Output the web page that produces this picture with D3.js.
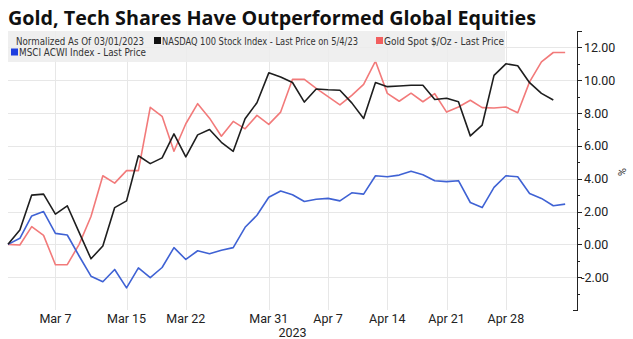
<!DOCTYPE html>
<html>
<head>
<meta charset="utf-8">
<script src="https://cdn.jsdelivr.net/npm/d3@7"></script>
<style>
  html, body { margin: 0; padding: 0; background: #fff; }
  svg { display: block; }
</style>
</head>
<body>
<script>
// ---- Data ----
const dates = [
  "2023-03-01","2023-03-02","2023-03-03","2023-03-06","2023-03-07","2023-03-08","2023-03-09","2023-03-10",
  "2023-03-13","2023-03-14","2023-03-15","2023-03-16","2023-03-17","2023-03-20","2023-03-21","2023-03-22",
  "2023-03-23","2023-03-24","2023-03-27","2023-03-28","2023-03-29","2023-03-30","2023-03-31","2023-04-03",
  "2023-04-04","2023-04-05","2023-04-06","2023-04-07","2023-04-10","2023-04-11","2023-04-12","2023-04-13",
  "2023-04-14","2023-04-17","2023-04-18","2023-04-19","2023-04-20","2023-04-21","2023-04-24","2023-04-25",
  "2023-04-26","2023-04-27","2023-04-28","2023-05-01","2023-05-02","2023-05-03","2023-05-04","2023-05-05"
];
const nasdaq = [
  0, 0.87, 3.0, 3.06, 1.84, 2.35, 0.73, -0.88, -0.1, 2.24, 2.65, 5.4, 4.92, 5.27, 6.73, 5.33,
  6.67, 7.0, 6.22, 5.67, 7.65, 8.63, 10.45, 10.2, 9.86, 8.67, 9.47, 9.42, 9.39, 8.62, 7.67, 9.86,
  9.61, 9.65, 9.69, 9.69, 8.83, 8.9, 8.69, 6.61, 7.27, 10.3, 11.0, 10.88, 9.85, 9.2, 8.8
];
const gold = [
  0, -0.04, 1.08, 0.55, -1.24, -1.24, 0.0, 1.7, 4.18, 3.73, 4.49, 4.49, 8.35, 7.8, 5.67, 7.35,
  8.57, 7.69, 6.59, 7.49, 7.04, 7.86, 7.31, 8.06, 10.06, 10.05, 9.5, 9.0, 8.5, 9.08, 9.75, 11.16,
  9.2, 8.72, 9.21, 8.69, 9.18, 8.06, 8.37, 8.78, 8.33, 8.31, 8.37, 8.02, 9.9, 11.12, 11.69, 11.69
];
const msci = [
  0, 0.37, 1.73, 2.0, 0.67, 0.57, -0.71, -1.94, -2.28, -1.53, -2.65, -1.43, -2.03, -1.41, -0.2, -0.92,
  -0.39, -0.57, -0.36, -0.2, 1.04, 1.77, 2.87, 3.25, 3.02, 2.61, 2.75, 2.8, 2.65, 3.14, 3.06, 4.18,
  4.12, 4.22, 4.45, 4.24, 3.88, 3.82, 3.88, 2.55, 2.24, 3.47, 4.18, 4.12, 3.1, 2.8, 2.35, 2.45
];
const xTickDates = ["2023-03-07","2023-03-15","2023-03-22","2023-03-31","2023-04-07","2023-04-14","2023-04-21","2023-04-28"];
const xTickLabels = ["Mar 7","Mar 15","Mar 22","Mar 31","Apr 7","Apr 14","Apr 21","Apr 28"];
const yTicks = [-2, 0, 2, 4, 6, 8, 10, 12];
const yMinorTicks = [-3, -1, 1, 3, 5, 7, 9, 11];
const title = "Gold, Tech Shares Have Outperformed Global Equities";
const legendNote = "Normalized As Of 03/01/2023";
const seriesNames = ["NASDAQ 100 Stock Index - Last Price on 5/4/23", "Gold Spot $/Oz - Last Price", "MSCI ACWI Index - Last Price"];

(function () {
// ---- Layout ----
const W = 633, H = 339;
const pL = 8, pR = 577, pT = 31, pB = 310;

const svg = d3.select("body").append("svg").attr("width", W).attr("height", H);

const x = d3.scaleLinear().domain([0, dates.length]).range([pL, pR]);
const y = d3.scaleLinear().domain([-4, 13]).range([pB, pT]);

// gridlines
const grid = svg.append("g").attr("stroke", "#e7e7e7").attr("stroke-width", 1);
grid.selectAll("line.h").data(yTicks).join("line")
  .attr("x1", pL).attr("x2", pR)
  .attr("y1", d => Math.round(y(d)) + 0.5).attr("y2", d => Math.round(y(d)) + 0.5);
grid.selectAll("line.v").data(xTickDates).join("line")
  .attr("x1", d => Math.round(x(dates.indexOf(d))) + 0.5).attr("x2", d => Math.round(x(dates.indexOf(d))) + 0.5)
  .attr("y1", pT).attr("y2", pB);

// lines
const lineGen = d3.line().x((d, i) => x(i)).y(d => y(d));
const series = [
  { values: gold, color: "#f27a7a" },
  { values: msci, color: "#3f62d4" },
  { values: nasdaq, color: "#1e1e1e" }
];
svg.append("g").selectAll("path").data(series).join("path")
  .attr("d", d => lineGen(d.values))
  .attr("fill", "none")
  .attr("stroke", d => d.color)
  .attr("stroke-width", 1.6)
  .attr("stroke-linejoin", "round");

// right axis
const ax = svg.append("g").attr("stroke", "#222").attr("stroke-width", 1);
ax.append("line").attr("x1", pR + 0.5).attr("x2", pR + 0.5).attr("y1", pT).attr("y2", pB + 0.5);
ax.append("line").attr("x1", pR).attr("x2", pR + 5).attr("y1", pT + 0.5).attr("y2", pT + 0.5);
ax.append("line").attr("x1", pR - 4).attr("x2", pR + 1).attr("y1", pB + 0.5).attr("y2", pB + 0.5);
ax.selectAll("line.maj").data(yTicks).join("line")
  .attr("x1", pR).attr("x2", pR + 5)
  .attr("y1", d => Math.round(y(d)) + 0.5).attr("y2", d => Math.round(y(d)) + 0.5);
ax.selectAll("line.min").data(yMinorTicks).join("line")
  .attr("x1", pR).attr("x2", pR + 3)
  .attr("y1", d => Math.round(y(d)) + 0.5).attr("y2", d => Math.round(y(d)) + 0.5);

svg.append("g").selectAll("text").data(yTicks).join("text")
  .attr("x", d => d < 0 ? pR + 4 : pR + 7)
  .attr("y", d => y(d) + 4.5)
  .attr("font-family", "Roboto, 'Open Sans', sans-serif")
  .attr("font-size", 12.5)
  .attr("fill", "#222")
  .text(d => d3.format(".2f")(d).replace("−", "-"));

svg.append("text")
  .attr("transform", `translate(${618},${172}) rotate(90)`)
  .attr("text-anchor", "middle")
  .attr("font-family", "Roboto, sans-serif")
  .attr("font-size", 11)
  .attr("fill", "#333")
  .text("%");

// x labels
svg.append("g").selectAll("text").data(xTickDates).join("text")
  .attr("x", d => x(dates.indexOf(d)))
  .attr("y", 323)
  .attr("text-anchor", "middle")
  .attr("font-family", "Roboto, 'Open Sans', sans-serif")
  .attr("font-size", 12.5)
  .attr("fill", "#222")
  .text((d, i) => xTickLabels[i]);
svg.append("text")
  .attr("x", (pL + pR) / 2).attr("y", 337)
  .attr("text-anchor", "middle")
  .attr("font-family", "Roboto, 'Open Sans', sans-serif")
  .attr("font-size", 12.5)
  .attr("fill", "#222")
  .text("2023");

// legend
svg.append("rect").attr("x", 8).attr("y", 31).attr("width", 497).attr("height", 31)
  .attr("fill", "#ececec").attr("fill-opacity", 0.85);
const lf = "'DejaVu Sans Condensed', 'Liberation Sans Narrow', sans-serif";
const lfs = 9.6;
svg.append("text").attr("x", 16).attr("y", 44.6).attr("font-family", lf).attr("font-size", lfs)
  .attr("fill", "#333").attr("textLength", 128).attr("lengthAdjust", "spacingAndGlyphs").text(legendNote);
const legendItems = [
  { name: seriesNames[0], color: "#111", sx: 154, sy: 37, tx: 162, ty: 44.6, tl: 196 },
  { name: seriesNames[1], color: "#f25f5f", sx: 376, sy: 37, tx: 384, ty: 44.6, tl: 120 },
  { name: seriesNames[2], color: "#1f3fe0", sx: 11, sy: 48.5, tx: 19, ty: 56.2, tl: 127 }
];
const lg = svg.append("g").selectAll("g").data(legendItems).join("g");
lg.append("rect").attr("x", d => d.sx).attr("y", d => d.sy).attr("width", 7).attr("height", 7).attr("fill", d => d.color);
lg.append("text").attr("x", d => d.tx).attr("y", d => d.ty)
  .attr("font-family", lf).attr("font-size", lfs).attr("fill", "#333")
  .attr("textLength", d => d.tl).attr("lengthAdjust", "spacingAndGlyphs")
  .text(d => d.name);

// title
svg.append("text").attr("x", 8).attr("y", 25)
  .attr("font-family", "'Open Sans', Roboto, sans-serif")
  .attr("font-weight", 700).attr("font-size", 20)
  .attr("fill", "#111")
  .attr("textLength", 528).attr("lengthAdjust", "spacingAndGlyphs")
  .text(title);
})();
</script>
</body>
</html>
